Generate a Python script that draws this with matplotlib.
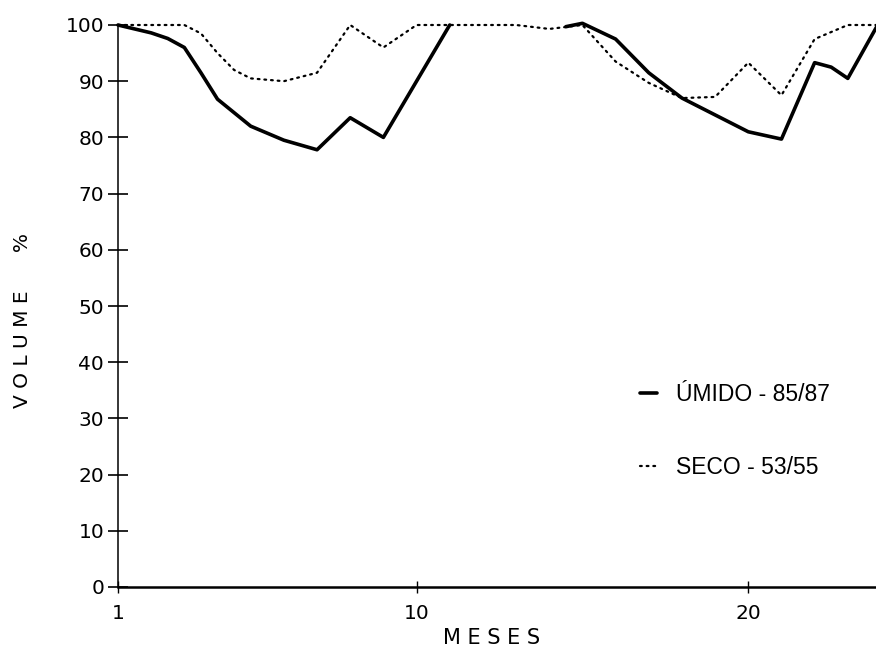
import numpy as np
import matplotlib
matplotlib.use("Agg")
import matplotlib.pyplot as plt

nan = np.nan

# UMIDO - 85/87 (solid)
umido_mes = [1, 2, 2.5, 3, 3.5, 4, 5, 6, 7, 8, 9, 10, 11, 12, 13, 14, 14.5, 15, 16, 17, 18, 19, 20, 21, 22, 22.5, 23, 23.9]
umido_vol = [100, 98.6, 97.6, 96, 91.5, 86.8, 82, 79.5, 77.8, 83.5, 80, 90, 100, nan, nan, nan, 99.7, 100.3,
             97.5, 91.5, 87, 84, 81, 79.7, 93.3, 92.5, 90.5, 100]

# SECO - 53/55 (dotted)
seco_mes = [1, 2, 3, 3.5, 4, 4.5, 5, 6, 7, 8, 9, 10, 11, 12, 13, 14, 15, 16, 17, 18, 19, 20, 21, 22, 23, 24]
seco_vol = [100, 100, 100, 98.5, 95, 92, 90.5, 90, 91.5, 100, 96, 100, 100, 100, 100, 99.3, 100,
            93.5, 89.7, 87, 87.2, 93.3, 87.5, 97.5, 100, 100]

y_ticks = [0, 10, 20, 30, 40, 50, 60, 70, 80, 90, 100]
y_ticklabels = ["0", "10", "20", "30", "40", "50", "60", "70", "80", "90", "100"]
x_ticks = [1, 10, 20]
x_ticklabels = ["1", "10", "20"]

W, H = 876, 648
fig = plt.figure(figsize=(W / 100, H / 100), dpi=100)
left, right = 118 / W, 1.0
bottom, top = 1 - 587 / H, 1 - 25 / H
ax = fig.add_axes([left, bottom, right - left, top - bottom])

ax.plot(umido_mes, umido_vol, color="black", lw=2.6, solid_capstyle="round",
        solid_joinstyle="round", clip_on=False, label="ÚMIDO - 85/87", zorder=3)
ax.plot(seco_mes, seco_vol, color="black", lw=1.6, linestyle=(0, (0.8, 2.2)),
        dash_capstyle="round", clip_on=False, label="SECO - 53/55", zorder=2)

ax.set_xlim(1, 23.85)
ax.set_ylim(0, 100)
ax.set_yticks(y_ticks)
ax.set_yticklabels(y_ticklabels)
ax.set_xticks(x_ticks)
ax.set_xticklabels(x_ticklabels)

for s in ["top", "right"]:
    ax.spines[s].set_visible(False)
ax.spines["left"].set_linewidth(1.1)
ax.spines["bottom"].set_linewidth(1.8)

ax.tick_params(axis="y", direction="inout", length=14, width=1.2, labelsize=14.5, pad=3)
ax.tick_params(axis="x", direction="inout", length=8, width=1.0, labelsize=14.5, pad=8)
for t in ax.get_yticklabels() + ax.get_xticklabels():
    t.set_family("DejaVu Sans")

fig.text(23 / W, 1 - 321 / H, "V O L U M E      %", rotation=90, ha="center", va="center",
         fontsize=14.5, family="DejaVu Sans")
fig.text(492 / W, 1 - 638 / H, "M E S E S", ha="center", va="center",
         fontsize=15, family="DejaVu Sans")

leg = ax.legend(loc="upper left", bbox_to_anchor=(640 / W, 1 - 383 / H),
                bbox_transform=fig.transFigure, frameon=False, borderpad=0,
                borderaxespad=0, handlelength=0.75, handletextpad=0.8,
                labelspacing=2.17, prop={"family": "Liberation Sans", "size": 16.5})

fig.savefig("out.png", dpi=100, facecolor="white")
